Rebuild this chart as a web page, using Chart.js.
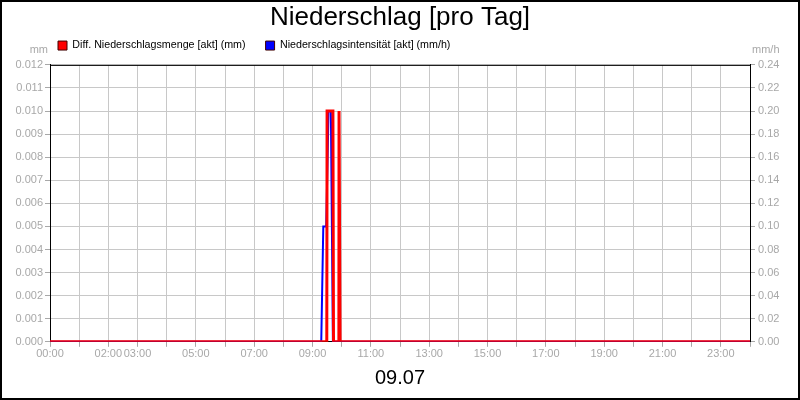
<!DOCTYPE html>
<html>
<head>
<meta charset="utf-8">
<script src="https://cdn.jsdelivr.net/npm/chart.js@4/dist/chart.umd.min.js"></script>
<style>
  body { margin: 0; background: #fff; }
</style>
</head>
<body>
<canvas id="chart" width="800" height="400"></canvas>
<script>
// hours of the day (decimal) and values
const mengeHours = [0, 9.49, 9.50, 9.70, 9.72, 9.905, 9.91, 9.94, 9.945, 24];
const mengeValues = [0, 0, 0.010, 0.010, 0, 0, 0.010, 0.010, 0, 0];

const intensHours = [0, 9.30, 9.37, 9.47, 9.55, 9.63, 9.70, 24];
const intensValues = [0, 0, 0.10, 0.10, 0.20, 0.20, 0, 0];

const hourLabels = [0, 2, 3, 5, 7, 9, 11, 13, 15, 17, 19, 21, 23];
const dayLabel = "09.07";

const gray = "#a8a8a8";
const font11 = { family: "Arial, 'Liberation Sans'", size: 11 };

function pairs(xs, ys) {
  return xs.map((x, i) => ({ x: x, y: ys[i] }));
}

// frame of the plot, unit labels and outer border
const extras = {
  id: "extras",
  afterLayout(chart) {
    // legend starts a bit right of the canvas edge
    chart.legend.left = 38;
  },
  afterDraw(chart) {
    const ctx = chart.ctx;
    const a = chart.chartArea;
    ctx.save();
    ctx.strokeStyle = "#000";
    ctx.lineWidth = 1;
    ctx.beginPath();
    ctx.moveTo(a.left, a.top + 0.5);
    ctx.lineTo(a.right, a.top + 0.5);
    ctx.stroke();
    ctx.lineWidth = 2;
    ctx.strokeRect(1, 1, 798, 398);

    ctx.fillStyle = gray;
    ctx.font = "11px Arial, 'Liberation Sans'";
    ctx.textBaseline = "middle";
    ctx.textAlign = "right";
    ctx.fillText("mm", 48, 50);
    ctx.textAlign = "left";
    ctx.fillText("mm/h", 752, 50);
    ctx.restore();
  }
};

new Chart(document.getElementById("chart"), {
  type: "line",
  data: {
    datasets: [
      {
        label: "Diff. Niederschlagsmenge [akt] (mm)",
        data: pairs(mengeHours, mengeValues),
        borderColor: "#ff0000",
        backgroundColor: "#ff0000",
        borderWidth: 3,
        pointRadius: 0,
        tension: 0,
        yAxisID: "y",
        order: 0
      },
      {
        label: "Niederschlagsintensität [akt] (mm/h)",
        data: pairs(intensHours, intensValues),
        borderColor: "#0000ff",
        backgroundColor: "#0000ff",
        borderWidth: 2,
        pointRadius: 0,
        tension: 0,
        yAxisID: "y1",
        order: 1
      }
    ]
  },
  options: {
    responsive: false,
    animation: false,
    layout: { padding: { left: 0, right: 0, top: 0, bottom: 2 } },
    plugins: {
      title: {
        display: true,
        text: "Niederschlag [pro Tag]",
        color: "#000",
        font: { family: "Arial, 'Liberation Sans'", size: 26, weight: "normal" },
        padding: { top: 2, bottom: -13 }
      },
      subtitle: {
        display: true,
        text: "",
        weight: 500,
        font: { size: 1, lineHeight: 1 },
        padding: { top: 0, bottom: 3 }
      },
      legend: {
        display: true,
        align: "start",
        labels: {
          color: "#000",
          font: { family: "Arial, 'Liberation Sans'", size: 10.7 },
          boxWidth: 9,
          boxHeight: 9,
          padding: 20,
          generateLabels: chart => {
            const items = Chart.defaults.plugins.legend.labels.generateLabels(chart);
            items.forEach(it => { it.strokeStyle = "#400000"; it.lineWidth = 1; });
            return items;
          }
        }
      },
      tooltip: { enabled: false }
    },
    scales: {
      x: {
        type: "linear",
        min: 0,
        max: 24,
        border: { color: "#000", width: 1 },
        grid: { color: "#c8c8c8", tickColor: gray, tickLength: 5 },
        ticks: {
          stepSize: 1,
          autoSkip: false,
          maxRotation: 0,
          color: gray,
          font: font11,
          padding: 1,
          callback: v => hourLabels.includes(v) ? String(v).padStart(2, "0") + ":00" : ""
        },
        title: {
          display: true,
          text: dayLabel,
          color: "#000",
          font: { family: "Arial, 'Liberation Sans'", size: 20 },
          padding: { top: 4, bottom: 8 }
        }
      },
      y: {
        position: "left",
        min: 0,
        max: 0.012,
        border: { color: "#000", width: 1 },
        grid: { color: "#c8c8c8", tickColor: gray, tickLength: 5 },
        ticks: {
          stepSize: 0.001,
          color: gray,
          font: font11,
          padding: 2,
          callback: v => v.toFixed(3)
        },
        afterFit: s => { s.width = 50; }
      },
      y1: {
        position: "right",
        min: 0,
        max: 0.24,
        border: { color: "#000", width: 1 },
        grid: { drawOnChartArea: false, tickColor: gray, tickLength: 5 },
        ticks: {
          stepSize: 0.02,
          color: gray,
          font: font11,
          padding: 3,
          callback: v => v.toFixed(2)
        },
        afterFit: s => { s.width = 50; }
      }
    }
  },
  plugins: [extras]
});
</script>
</body>
</html>
